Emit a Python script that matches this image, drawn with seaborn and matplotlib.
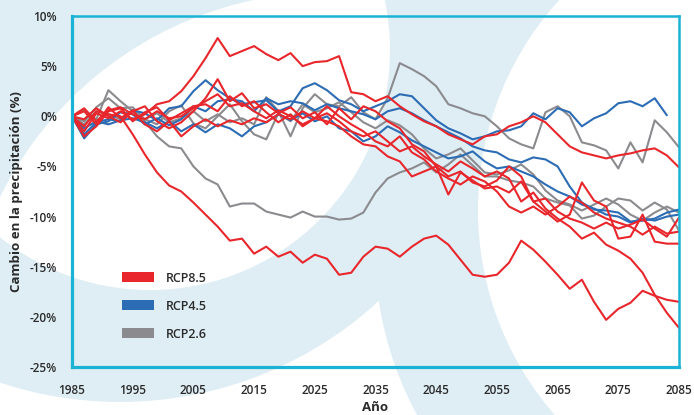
import numpy as np
import pandas as pd
import seaborn as sns
import matplotlib.pyplot as plt
from matplotlib.patches import Circle, Patch
from matplotlib.ticker import MultipleLocator, FuncFormatter

# Datos: cambio en la precipitación (%) cada 2 años, 1985-2085
years = list(range(1985, 2086, 2))

rcp85_a = [0, -1.5, 0.3, -0.2, 0.5, -0.3, 0.2, 1.2, 1.5, 2.5, 4.0, 5.8, 7.8, 6.0, 6.5, 7.0, 6.2, 5.6, 6.3, 5.0,
           5.4, 5.5, 6.0, 2.4, 2.2, 1.5, 2.0, 1.0, 0.2, -0.5, -1.0, -1.8, -2.3, -2.8, -2.0, -1.8, -1.0, -0.6, 0.0, -0.6,
           -1.8, -3.0, -3.6, -3.9, -4.2, -3.9, -3.7, -3.4, -3.2, -3.9, -5.1]
rcp85_b = [0, -1.0, 0.5, 0.2, 0.0, -1.8, -3.8, -5.6, -6.9, -7.5, -8.6, -9.8, -11.0, -12.4, -12.2, -13.7, -13.0, -14.0,
           -13.5, -14.6, -13.8, -14.2, -15.8, -15.6, -14.0, -13.0, -13.2, -14.0, -13.0, -12.2, -11.9, -12.8, -14.3,
           -15.8, -16.0, -15.8, -14.6, -12.4, -13.3, -14.5, -15.8, -17.2, -16.3, -18.5, -20.3, -19.2, -18.6, -17.4,
           -17.9, -18.3, -18.5]
rcp85_c = [0, 0.8, -0.5, 0.6, 0.9, 0.2, -0.3, 0.5, -0.2, 0.0, 0.8, 1.5, 2.2, 1.0, 1.3, 0.5, -0.2, 0.6, 0.0, -0.8,
           -0.2, 0.3, -0.5, -1.5, -2.0, -1.5, -2.5, -3.5, -3.0, -4.0, -4.8, -5.5, -4.5, -5.2, -6.0, -5.5, -6.2, -8.5,
           -7.6, -9.2, -10.2, -11.0, -12.2, -11.6, -12.8, -13.4, -14.2, -15.6, -17.8, -19.6, -21.1]
rcp85_d = [0, -0.3, 0.8, 0.0, -0.6, 0.5, 1.0, -0.5, -1.2, -0.6, 0.5, 1.8, 3.7, 1.5, 2.3, 0.8, 1.2, 0.3, 0.9, -0.2,
           0.4, -0.8, 0.8, -0.3, 1.0, 0.5, -0.5, -1.2, -2.8, -3.5, -5.0, -6.0, -5.5, -6.6, -7.0, -6.4, -5.0, -6.0,
           -8.5, -9.5, -10.5, -9.8, -6.6, -8.4, -9.0, -12.2, -12.0, -9.8, -12.5, -12.7, -12.7]
rcp85_e = [0, -2.0, -1.0, 0.5, 0.8, -0.5, 0.4, 0.9, -0.4, 0.3, 1.0, 1.2, 0.5, 2.0, 1.0, 1.5, 0.4, -0.6, 0.2, -1.0,
           -0.2, -0.5, -1.0, -2.0, -2.8, -3.0, -4.0, -4.5, -6.0, -5.5, -5.0, -7.8, -5.6, -6.4, -7.2, -7.0, -7.6, -6.5,
           -8.5, -8.2, -9.5, -10.2, -10.6, -11.2, -10.6, -11.2, -10.8, -10.3, -11.2, -12.0, -10.1]
rcp85_f = [0, 0.5, -0.8, 0.9, -0.2, 0.6, -0.8, -1.5, -0.5, -2.0, -1.0, -0.3, -1.0, -0.4, -0.8, -0.2, -0.6, 0.2, -0.3,
           0.5, -0.2, 1.0, 0.0, -0.8, -1.5, -2.5, -3.0, -2.0, -3.6, -4.3, -5.5, -6.2, -6.8, -6.0, -6.5, -7.5, -9.0,
           -9.6, -9.0, -9.8, -9.0, -8.0, -8.6, -9.6, -10.2, -10.6, -11.0, -11.8, -11.0, -11.7, -11.5]

rcp45_a = [0, -1.8, -0.6, -0.3, -0.5, 0.6, 0.3, -0.4, 0.8, 1.0, 2.5, 3.6, 2.6, 1.8, 1.2, 1.4, 1.6, 0.5, 1.0, 2.8,
           3.3, 2.6, 1.6, 1.2, 0.5, 1.0, 1.5, 2.2, 2.0, 0.8, -0.4, -1.2, -1.7, -2.3, -2.0, -1.5, -1.4, -1.0, 0.3, -0.3,
           0.8, 0.4, -1.0, -0.2, 0.3, 1.3, 1.5, 1.0, 1.8, 0.1, np.nan]
rcp45_b = [0, -2.2, -0.8, -0.5, 0.4, 0.2, -0.8, -0.2, -0.9, -0.3, 1.0, 0.5, 1.5, 1.7, 1.5, 0.5, 1.8, 1.2, 1.5, 1.3,
           0.6, 1.2, 0.8, 0.5, 0.2, -0.3, 0.5, 0.8, 0.3, -0.4, -1.0, -1.6, -2.2, -3.0, -3.4, -3.6, -4.3, -4.6, -4.1,
           -4.3, -5.0, -7.0, -8.6, -9.3, -9.4, -9.6, -10.5, -10.4, -10.2, -9.6, -9.3]
rcp45_c = [0, -1.2, -0.5, -0.8, -0.4, -0.2, -0.6, -1.2, -0.5, -1.5, -0.8, -1.6, -0.8, -1.2, -2.0, -1.0, -0.6, 0.2,
           -0.4, 0.3, -0.5, 0.0, -1.2, -1.5, -2.5, -2.0, -1.0, -1.6, -2.4, -3.0, -3.6, -4.2, -4.0, -3.5, -4.5, -5.2,
           -5.0, -5.5, -6.0, -6.8, -7.5, -8.0, -8.8, -9.2, -9.8, -10.0, -10.6, -10.2, -10.4, -10.0, -9.8]

rcp26_a = [0, -0.8, 0.5, 0.2, -0.3, 0.6, -0.5, -2.0, -3.0, -3.2, -5.0, -6.2, -6.8, -9.0, -8.7, -8.7, -9.5, -9.8,
           -10.1, -9.5, -10.0, -10.0, -10.3, -10.2, -9.6, -7.6, -6.2, -5.6, -5.2, -4.6, -5.6, -4.8, -3.8, -4.9, -6.0,
           -6.0, -6.4, -6.6, -7.0, -8.2, -8.6, -8.9, -10.2, -9.9, -9.0, -8.2, -8.4, -9.4, -8.6, -9.3, -11.4]
rcp26_b = [0, 0.6, -0.3, 2.6, 1.5, 0.5, -0.3, 0.3, -0.6, -0.2, 0.5, -0.5, 0.2, -0.6, -0.2, -0.8, 1.9, 0.5, -2.0, 0.8,
           2.2, 1.2, 1.0, 1.9, 0.4, -0.3, 1.8, 5.3, 4.7, 4.0, 3.0, 1.2, 0.8, 0.3, 0.0, -1.0, -2.2, -2.8, -3.2, 0.4,
           1.0, 0.0, -2.6, -2.9, -3.4, -5.2, -2.6, -4.6, -0.4, -1.6, -3.1]
rcp26_c = [0, -0.5, 0.9, 1.8, 0.8, 0.9, -0.3, -0.8, 0.5, 1.1, -0.7, -1.2, 0.0, 1.2, -0.5, -1.8, -2.3, 0.3, -0.5, 1.2,
           0.4, 0.8, 1.4, 0.4, -0.6, -1.2, -0.4, -0.9, -1.8, -3.2, -4.2, -3.8, -3.2, -4.4, -5.6, -5.8, -5.4, -4.8,
           -5.8, -7.4, -8.4, -8.8, -9.4, -8.8, -8.2, -8.8, -9.8, -10.4, -9.6, -9.0, -9.6]

scenarios = ['RCP8.5', 'RCP4.5', 'RCP2.6']
colores = {'RCP8.5': '#E8262B', 'RCP4.5': '#2C6CB4', 'RCP2.6': '#8B8B8F'}
series = {
    'RCP2.6': [rcp26_a, rcp26_b, rcp26_c],
    'RCP4.5': [rcp45_a, rcp45_b, rcp45_c],
    'RCP8.5': [rcp85_a, rcp85_b, rcp85_c, rcp85_d, rcp85_e, rcp85_f],
}
xticks = list(range(1985, 2086, 10))

rows = []
for esc, runs in series.items():
    for i, vals in enumerate(runs):
        for y, v in zip(years, vals):
            rows.append({'year': y, 'value': v, 'scenario': esc, 'run': f'{esc}_{i}'})
df = pd.DataFrame(rows)

sns.set_style('white')
plt.rcParams['font.family'] = ['Open Sans', 'DejaVu Sans']
plt.rcParams['lines.solid_joinstyle'] = 'round'
plt.rcParams['lines.solid_capstyle'] = 'round'

cian = '#1AB3D5'
azul_fondo = '#DFEEF5'
texto = '#2A2A2A'

fig = plt.figure(figsize=(6.94, 4.15), dpi=100)
fig.patch.set_facecolor('white')

# Fondo decorativo (formas del logo)
bg = fig.add_axes([0, 0, 1, 1], zorder=0)
bg.set_xlim(0, 694)
bg.set_ylim(415, 0)
bg.axis('off')
bg.add_patch(Circle((120, 20), 382, color=azul_fondo, lw=0))
bg.add_patch(Circle((720, 250), 345, color=azul_fondo, lw=0))
clip = Circle((330, 360), 368, transform=bg.transData)
lente = Circle((150, 50), 240, color='white', lw=0)
bg.add_patch(lente)
lente.set_clip_path(clip)
bg.add_patch(Circle((790, 210), 312, color='white', lw=0))

ax = fig.add_axes([72 / 694, 48 / 415, 607 / 694, 351 / 415], zorder=1)
ax.set_facecolor('none')

for esc in ['RCP2.6', 'RCP4.5', 'RCP8.5']:
    sub = df[df['scenario'] == esc]
    sns.lineplot(data=sub, x='year', y='value', units='run', estimator=None,
                 color=colores[esc], linewidth=1.5, ax=ax, legend=False)

ax.set_xlim(1985, 2085)
ax.set_ylim(-25, 10)
ax.set_xticks(xticks)
ax.xaxis.set_minor_locator(MultipleLocator(1))
ax.yaxis.set_major_locator(MultipleLocator(5))
ax.yaxis.set_minor_locator(MultipleLocator(1))
ax.yaxis.set_major_formatter(FuncFormatter(lambda v, p: f'{int(v)}%'))

for side in ['left', 'bottom']:
    ax.spines[side].set_color(cian)
    ax.spines[side].set_linewidth(2.3)
for side in ['top', 'right']:
    ax.spines[side].set_visible(True)
    ax.spines[side].set_color(cian)
    ax.spines[side].set_linewidth(1.8)

ax.tick_params(which='major', direction='inout', length=9.5, width=1.5, color=cian,
               labelsize=8.5, labelcolor=texto)
ax.tick_params(axis='x', which='major', pad=7.5)
ax.tick_params(axis='y', which='major', pad=6)
ax.tick_params(which='minor', direction='in', length=4.5, width=1.3, color=cian)
for lab in ax.get_xticklabels() + ax.get_yticklabels():
    lab.set_fontweight('semibold')

ax.set_xlabel('Año', fontsize=9.5, fontweight='bold', color=texto, labelpad=3)
ax.set_ylabel('Cambio en la precipitación (%)', fontsize=9.5, fontweight='bold', color=texto, labelpad=5)

handles = [Patch(facecolor=colores[e], edgecolor='none', label=e) for e in scenarios]
leg = ax.legend(handles=handles, loc='upper left', bbox_to_anchor=(0.082, 0.272), frameon=False,
                fontsize=9, handlelength=2.6, handleheight=0.85, handletextpad=0.9,
                labelspacing=1.2, borderpad=0, borderaxespad=0)
for t in leg.get_texts():
    t.set_color(texto)
    t.set_fontweight('semibold')

fig.savefig('out.png', dpi=100)
